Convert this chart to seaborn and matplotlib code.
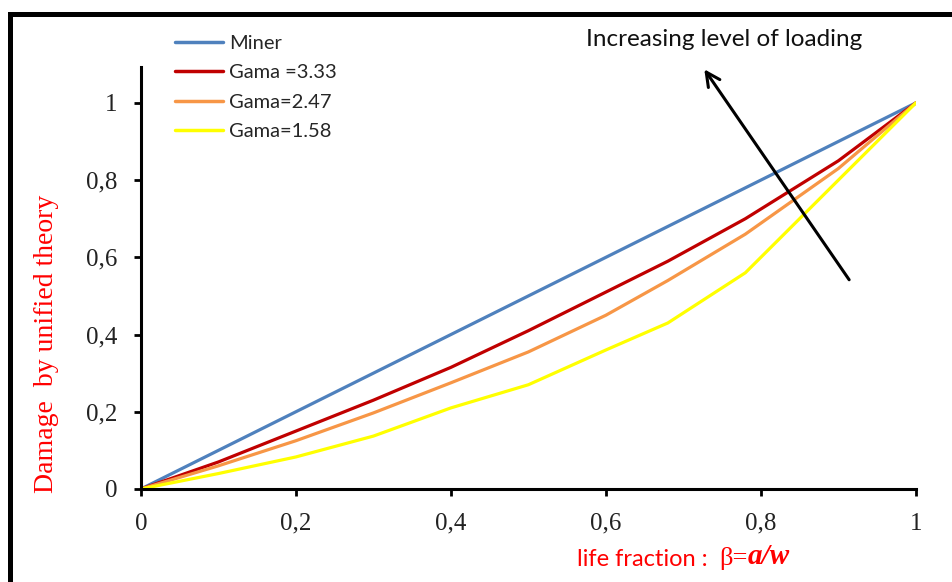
import numpy as np
import pandas as pd
import matplotlib
matplotlib.use("Agg")
import matplotlib.pyplot as plt
import seaborn as sns
from matplotlib.patches import Rectangle

# life fraction values and damage curves
beta = [0, 0.1, 0.2, 0.3, 0.4, 0.5, 0.6, 0.68, 0.78, 0.9, 1]
miner = [0, 0.1, 0.2, 0.3, 0.4, 0.5, 0.6, 0.68, 0.78, 0.9, 1]
gama_333 = [0, 0.07, 0.15, 0.23, 0.315, 0.41, 0.51, 0.59, 0.70, 0.85, 1]
gama_247 = [0, 0.06, 0.125, 0.197, 0.275, 0.355, 0.45, 0.54, 0.66, 0.83, 1]
gama_158 = [0, 0.04, 0.083, 0.137, 0.21, 0.27, 0.36, 0.43, 0.56, 0.80, 1]

labels = ["Miner", "Gama =3.33", "Gama=2.47", "Gama=1.58"]
colors = ["#4F81BD", "#C00000", "#F79646", "#FFFF00"]
tick_vals = [0, 0.2, 0.4, 0.6, 0.8, 1]
tick_text = ["0", "0,2", "0,4", "0,6", "0,8", "1"]

rows = []
for lab, ys in zip(labels, [miner, gama_333, gama_247, gama_158]):
    for b, d in zip(beta, ys):
        rows.append({"beta": b, "damage": d, "curve": lab})
df = pd.DataFrame(rows)

sns.set_style("white")
fig = plt.figure(figsize=(9.52, 5.82), dpi=100)
ax = fig.add_axes([0.148, 0.1598, 0.814, 0.7251])

sns.lineplot(data=df, x="beta", y="damage", hue="curve", hue_order=labels,
             palette=colors, linewidth=2.3, ax=ax, legend=True)

ax.set_xlim(0, 1)
ax.set_ylim(0, 1.093)
ax.set_xticks(tick_vals)
ax.set_xticklabels(tick_text)
ax.set_yticks(tick_vals)
ax.set_yticklabels(tick_text)
for lbl in ax.get_xticklabels() + ax.get_yticklabels():
    lbl.set_fontfamily("Liberation Serif")
    lbl.set_fontsize(18)
    lbl.set_color("#222222")
ax.tick_params(axis="both", direction="out", length=5, width=2, color="black",
               left=True, bottom=True, pad=12)
for s in ["top", "right"]:
    ax.spines[s].set_visible(False)
for s in ["left", "bottom"]:
    ax.spines[s].set_color("black")
    ax.spines[s].set_linewidth(2.2)
ax.set_xlabel("")
ax.set_ylabel("")

leg = ax.legend(loc="upper left", bbox_to_anchor=(0.02, 1.12), frameon=False,
                handlelength=2.4, handletextpad=0.3, labelspacing=0.62,
                prop={"family": "Lato", "size": 14.5})
for h in leg.get_lines():
    h.set_linewidth(2.5)

# arrow with annotation text
ax.annotate("", xy=(0.725, 1.093), xytext=(0.916, 0.536),
            arrowprops=dict(arrowstyle="->", color="black", lw=2.2,
                            mutation_scale=25), annotation_clip=False)
fig.text(724 / 952, 1 - 40 / 582, "Increasing level of loading", ha="center",
         va="center", fontsize=17.5, family="Lato", color="#111111")

# axis labels
fig.text(47 / 952, 1 - 344 / 582, "Damage  by unified theory", rotation=90,
         ha="center", va="center", fontsize=20, family="Liberation Serif",
         color="red")
t1 = fig.text(577 / 952, 1 - 566 / 582, "life fraction :  ", ha="left",
              va="baseline", fontsize=17, family="Lato", color="red")
t2 = ax.annotate("\u03b2=", xy=(1, 0), xycoords=t1, va="bottom", ha="left",
                 fontsize=19, family="Liberation Serif", color="red")
ax.annotate("a/w", xy=(1, 0), xycoords=t2, va="bottom", ha="left",
            fontsize=21, family="Liberation Serif", style="italic",
            weight="bold", color="red")

# outer frame
fig.patches.append(Rectangle((10 / 952, -0.1), 1.2, 1 - 14 / 582 + 0.1,
                             transform=fig.transFigure, fill=False,
                             edgecolor="black", linewidth=3.6))

fig.savefig("out.png", dpi=100)
